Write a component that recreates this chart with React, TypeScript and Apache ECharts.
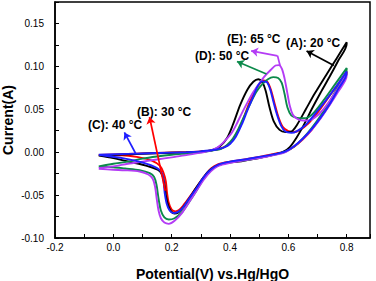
import React, { useEffect, useRef } from "react";
import * as echarts from "echarts";

type P = [number, number];

// (A) 20 °C — black
const curveA: P[] = [
  [-0.05, -0.004], [0.05, -0.0025], [0.15, -0.0012], [0.25, -0.0002], [0.3, 0.0005], [0.34, 0.0025],
  [0.365, 0.0065], [0.39, 0.0165], [0.41, 0.032], [0.435, 0.055], [0.46, 0.073], [0.48, 0.082],
  [0.497, 0.085], [0.51, 0.082], [0.522, 0.072], [0.535, 0.053], [0.55, 0.036], [0.57, 0.026],
  [0.59, 0.0235], [0.61, 0.024], [0.63, 0.032], [0.66, 0.05], [0.69, 0.068], [0.73, 0.09],
  [0.765, 0.109], [0.8, 0.128],
  [0.8, 0.126], [0.77, 0.106], [0.74, 0.087], [0.71, 0.069], [0.68, 0.05], [0.655, 0.033],
  [0.63, 0.018], [0.605, 0.006], [0.58, 0.0], [0.53, -0.0045], [0.48, -0.008], [0.43, -0.011],
  [0.39, -0.0125], [0.355, -0.016], [0.33, -0.021], [0.31, -0.029], [0.285, -0.041], [0.26, -0.054],
  [0.24, -0.064], [0.222, -0.0705], [0.21, -0.0715], [0.198, -0.069], [0.188, -0.062], [0.18, -0.05],
  [0.175, -0.037], [0.168, -0.027], [0.155, -0.021], [0.12, -0.0165], [0.06, -0.0115], [0.0, -0.007],
  [-0.05, -0.004],
];

// (B) 30 °C — red
const curveB: P[] = [
  [-0.05, -0.0033], [0.05, -0.002], [0.15, -0.0009], [0.25, 0.0002], [0.3, 0.001], [0.35, 0.0027],
  [0.38, 0.006], [0.4, 0.0105], [0.42, 0.02], [0.44, 0.034], [0.46, 0.052], [0.48, 0.068],
  [0.5, 0.079], [0.515, 0.0835], [0.528, 0.082], [0.54, 0.073], [0.552, 0.058], [0.565, 0.042],
  [0.58, 0.03], [0.6, 0.0245], [0.62, 0.0235], [0.64, 0.026], [0.67, 0.034], [0.7, 0.046],
  [0.74, 0.065], [0.77, 0.079], [0.8, 0.094],
  [0.8, 0.092], [0.77, 0.073], [0.74, 0.055], [0.71, 0.04], [0.68, 0.026], [0.65, 0.015],
  [0.62, 0.0065], [0.59, 0.001], [0.55, -0.002], [0.5, -0.0055], [0.45, -0.0085], [0.4, -0.011],
  [0.36, -0.014], [0.335, -0.019], [0.31, -0.029], [0.285, -0.041], [0.26, -0.053], [0.24, -0.062],
  [0.225, -0.0675], [0.213, -0.069], [0.2, -0.067], [0.19, -0.059], [0.184, -0.047], [0.18, -0.034],
  [0.172, -0.024], [0.16, -0.016], [0.13, -0.0095], [0.08, -0.0055], [0.03, -0.0035], [-0.05, -0.0033],
];

// (C) 40 °C — blue
const curveC: P[] = [
  [-0.05, -0.003], [0.05, -0.002], [0.15, -0.001], [0.25, 0.0], [0.3, 0.001], [0.35, 0.0028],
  [0.38, 0.0055], [0.4, 0.0095], [0.42, 0.018], [0.44, 0.032], [0.46, 0.049], [0.48, 0.065],
  [0.495, 0.077], [0.51, 0.0825], [0.525, 0.082], [0.537, 0.074], [0.548, 0.06], [0.56, 0.045],
  [0.575, 0.031], [0.59, 0.024], [0.61, 0.0225], [0.63, 0.0245], [0.66, 0.032], [0.69, 0.044],
  [0.73, 0.061], [0.765, 0.077], [0.8, 0.094],
  [0.8, 0.092], [0.77, 0.073], [0.74, 0.055], [0.71, 0.04], [0.68, 0.027], [0.65, 0.016],
  [0.62, 0.007], [0.59, 0.001], [0.55, -0.0025], [0.5, -0.0055], [0.45, -0.0085], [0.4, -0.011],
  [0.36, -0.0145], [0.335, -0.02], [0.31, -0.029], [0.285, -0.042], [0.26, -0.054], [0.24, -0.064],
  [0.222, -0.0695], [0.205, -0.071], [0.193, -0.068], [0.183, -0.06], [0.176, -0.047], [0.172, -0.033],
  [0.166, -0.024], [0.15, -0.0185], [0.1, -0.012], [0.04, -0.0075], [-0.05, -0.003],
];

// (D) 50 °C — green
const curveD: P[] = [
  [-0.05, -0.0165], [0.0, -0.0135], [0.05, -0.011], [0.1, -0.0075], [0.15, -0.005], [0.2, -0.003],
  [0.25, -0.0015], [0.3, 0.0], [0.34, 0.002], [0.37, 0.004], [0.39, 0.0085], [0.41, 0.016],
  [0.43, 0.028], [0.45, 0.043], [0.47, 0.057], [0.49, 0.07], [0.51, 0.079], [0.53, 0.085],
  [0.548, 0.0875], [0.565, 0.0865], [0.577, 0.081], [0.587, 0.068], [0.597, 0.052], [0.61, 0.043],
  [0.63, 0.04], [0.65, 0.0395], [0.67, 0.041], [0.69, 0.047], [0.72, 0.06], [0.76, 0.079], [0.8, 0.098],
  [0.8, 0.096], [0.77, 0.076], [0.74, 0.058], [0.71, 0.042], [0.68, 0.028], [0.65, 0.016],
  [0.62, 0.0065], [0.59, 0.0005], [0.55, -0.003], [0.5, -0.0065], [0.45, -0.0095], [0.4, -0.0115],
  [0.36, -0.0155], [0.335, -0.021], [0.31, -0.031], [0.285, -0.045], [0.26, -0.058], [0.235, -0.07],
  [0.21, -0.077], [0.19, -0.0785], [0.175, -0.076], [0.163, -0.068], [0.155, -0.054], [0.148, -0.038],
  [0.14, -0.029], [0.125, -0.0245], [0.09, -0.021], [0.04, -0.019], [0.0, -0.0175], [-0.05, -0.0165],
];

// (E) 65 °C — violet
const curveE: P[] = [
  [-0.05, -0.0185], [0.0, -0.0165], [0.05, -0.0135], [0.1, -0.011], [0.15, -0.0085], [0.2, -0.006],
  [0.25, -0.0035], [0.3, -0.0005], [0.33, 0.0015], [0.355, 0.005], [0.375, 0.0105], [0.39, 0.016],
  [0.405, 0.022], [0.42, 0.031], [0.44, 0.045], [0.46, 0.058], [0.48, 0.07], [0.5, 0.08],
  [0.52, 0.089], [0.54, 0.096], [0.556, 0.101], [0.568, 0.1015], [0.578, 0.097], [0.587, 0.086],
  [0.596, 0.07], [0.605, 0.054], [0.615, 0.044], [0.63, 0.039], [0.65, 0.037], [0.67, 0.037],
  [0.69, 0.04], [0.72, 0.05], [0.76, 0.069], [0.8, 0.091],
  [0.8, 0.089], [0.77, 0.07], [0.74, 0.054], [0.71, 0.039], [0.68, 0.026], [0.65, 0.0155],
  [0.62, 0.007], [0.59, 0.0], [0.55, -0.0035], [0.5, -0.007], [0.45, -0.0095], [0.4, -0.0125],
  [0.36, -0.016], [0.335, -0.022], [0.31, -0.032], [0.285, -0.045], [0.26, -0.058], [0.235, -0.071],
  [0.21, -0.08], [0.19, -0.0835], [0.175, -0.082], [0.163, -0.077], [0.155, -0.068], [0.149, -0.055],
  [0.143, -0.04], [0.135, -0.031], [0.12, -0.026], [0.09, -0.0225], [0.04, -0.021], [0.0, -0.0205],
  [-0.05, -0.0195],
];

const seriesNames = ["(A): 20 °C", "(B): 30 °C", "(C): 40 °C", "(D): 50 °C", "(E): 65 °C"];
const seriesColors = ["#000000", "#ff0000", "#1f1fff", "#0b8a4a", "#b43cf5"];

// arrows: [start, end] in data coordinates
const arrowA: P[] = [[0.756, 0.101], [0.6625, 0.118]];
const arrowB: P[] = [[0.178, -0.045], [0.124, 0.041]];
const arrowC: P[] = [[0.077, -0.0018], [0.038, 0.023]];
const arrowD: P[] = [[0.525, 0.091], [0.424, 0.1057]];
const arrowEStem: P[] = [[0.572, 0.1005], [0.563, 0.1123]];
const arrowE: P[] = [[0.563, 0.1123], [0.4725, 0.118]];

const xTicks = { min: -0.2, max: 0.88, interval: 0.1 };
const yTicks = { min: -0.1, max: 0.175, interval: 0.025 };

const FONT = 'Arial, "Liberation Sans", sans-serif';

export default function App() {
  const ref = useRef<HTMLDivElement>(null);
  useEffect(() => {
    if (!ref.current) return;
    const chart = echarts.init(ref.current, undefined, { renderer: "svg" });
    const curves = [curveA, curveB, curveC, curveD, curveE];
    const drawOrder = [1, 0, 3, 4, 2];
    const lineSeries = drawOrder.map((i, k) => ({
      type: "line",
      name: seriesNames[i],
      data: curves[i],
      showSymbol: false,
      smooth: 0.3,
      lineStyle: { color: seriesColors[i], width: 1.9 },
      z: 2 + k * 0.01,
    }));
    const arrowDefs: { c: P[]; color: string; head: boolean }[] = [
      { c: arrowA, color: seriesColors[0], head: true },
      { c: arrowB, color: seriesColors[1], head: true },
      { c: arrowC, color: seriesColors[2], head: true },
      { c: arrowD, color: seriesColors[3], head: true },
      { c: arrowEStem, color: seriesColors[4], head: false },
      { c: arrowE, color: seriesColors[4], head: true },
    ];
    const arrowSeries = arrowDefs.map((a) => ({
      type: "lines",
      coordinateSystem: "cartesian2d",
      symbol: a.head ? ["none", "arrow"] : ["none", "none"],
      symbolSize: 7,
      lineStyle: { color: a.color, width: 1.7, opacity: 1 },
      data: [{ coords: a.c }],
      z: 3,
      silent: true,
    }));
    const labelStyle = { fontFamily: FONT, fontWeight: "bold", fontSize: 12, fill: "#000" };
    chart.setOption({
      animation: false,
      backgroundColor: "#ffffff",
      textStyle: { fontFamily: FONT },
      grid: {
        left: 55, right: 6, top: 2, bottom: 43,
        containLabel: false,
        outerBoundsMode: "none",
        show: true, borderColor: "#000", borderWidth: 1.5, backgroundColor: "transparent",
      },
      xAxis: {
        type: "value",
        ...xTicks,
        name: "Potential(V) vs.Hg/HgO",
        nameLocation: "middle",
        nameGap: 29,
        nameMoveOverlap: false,
        nameTextStyle: { fontSize: 14, fontWeight: "bold", color: "#000", fontFamily: FONT },
        axisLine: { show: true, onZero: false, lineStyle: { color: "#000", width: 1.5 } },
        axisTick: { show: true, inside: true, length: 4, lineStyle: { color: "#000", width: 1 } },
        splitLine: { show: false },
        axisLabel: {
          color: "#000", fontSize: 10, margin: 4, fontFamily: FONT,
          formatter: (v: number) => {
            const k = Math.round(v * 10);
            return k % 2 === 0 && v < 0.85 ? v.toFixed(1) : "";
          },
        },
      },
      yAxis: {
        type: "value",
        ...yTicks,
        name: "Current(A)",
        nameLocation: "middle",
        nameRotate: 90,
        nameGap: 40,
        nameMoveOverlap: false,
        nameTextStyle: { fontSize: 14, fontWeight: "bold", color: "#000", fontFamily: FONT },
        axisLine: { show: true, onZero: false, lineStyle: { color: "#000", width: 1.5 } },
        axisTick: { show: true, inside: true, length: 4, lineStyle: { color: "#000", width: 1 } },
        splitLine: { show: false },
        axisLabel: {
          color: "#000", fontSize: 10, margin: 11, fontFamily: FONT,
          formatter: (v: number) => {
            const k = Math.round(v * 100);
            return k % 5 === 0 ? v.toFixed(2) : "";
          },
        },
      },
      graphic: [
        { type: "text", left: 227, top: 33, style: { ...labelStyle, text: seriesNames[4] } },
        { type: "text", left: 286, top: 37, style: { ...labelStyle, text: seriesNames[0] } },
        { type: "text", left: 195, top: 50, style: { ...labelStyle, text: seriesNames[3] } },
        { type: "text", left: 137, top: 106, style: { ...labelStyle, text: seriesNames[1] } },
        { type: "text", left: 88, top: 119, style: { ...labelStyle, text: seriesNames[2] } },
      ],
      series: [...lineSeries, ...arrowSeries],
    });
    return () => chart.dispose();
  }, []);
  return (
    <div
      ref={ref}
      style={{ position: "fixed", left: 0, top: 0, width: 376, height: 281, background: "#fff" }}
    />
  );
}
